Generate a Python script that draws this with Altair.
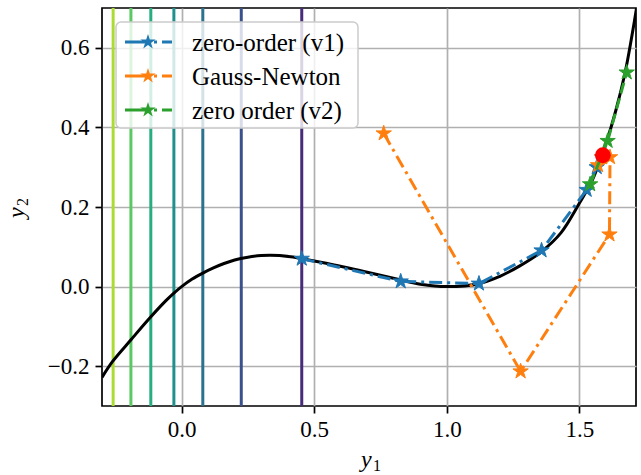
import altair as alt
import pandas as pd

# ---- data ----
curve_x = [-0.30, -0.26, -0.19, -0.12, -0.06, -0.03, 0.00, 0.04, 0.08, 0.12, 0.16, 0.20,
           0.25, 0.30, 0.333, 0.37, 0.44, 0.55, 0.70, 0.823, 0.90, 1.00, 1.125, 1.20,
           1.275, 1.355, 1.43, 1.50, 1.55, 1.60, 1.64, 1.672, 1.695, 1.715, 1.73]
curve_y = [-0.228, -0.188, -0.133, -0.079, -0.036, -0.017, 0.000, 0.019, 0.034, 0.047, 0.058, 0.067,
           0.074, 0.078, 0.079, 0.078, 0.072, 0.058, 0.036, 0.017, 0.006, 0.000, 0.008, 0.026,
           0.052, 0.087, 0.135, 0.210, 0.270, 0.360, 0.450, 0.538, 0.620, 0.700, 0.770]

contour_y1 = [-0.258, -0.191, -0.116, -0.029, 0.080, 0.225, 0.453]
contour_levels = ["c1", "c2", "c3", "c4", "c5", "c6", "c7"]
contour_colors = ["#aadc32", "#5cc863", "#27ad81", "#21908d", "#2c718e", "#3b518b", "#472c7a"]

v1_x = [0.453, 0.826, 1.121, 1.357, 1.527, 1.565, 1.585]
v1_y = [0.070, 0.013, 0.0075, 0.091, 0.243, 0.300, 0.325]

gn_x = [0.762, 1.278, 1.613, 1.615, 1.570, 1.585]
gn_y = [0.385, -0.213, 0.131, 0.325, 0.305, 0.325]

v2_x = [1.540, 1.606, 1.678]
v2_y = [0.257, 0.366, 0.538]

sol_x = [1.588]
sol_y = [0.330]

legend_labels = ["zero-order (v1)", "Gauss-Newton", "zero order (v2)"]
series_colors = ["#1f77b4", "#ff7f0e", "#2ca02c"]

x_ticks = [0.0, 0.5, 1.0, 1.5]
y_ticks = [-0.2, 0.0, 0.2, 0.4, 0.6]

FONT = "Liberation Serif"
STAR = ("M0,-1L0.2245,-0.309L0.951,-0.309L0.363,0.118L0.588,0.809L0,0.382"
        "L-0.588,0.809L-0.363,0.118L-0.951,-0.309L-0.2245,-0.309Z")

x_scale = alt.Scale(domain=[-0.3, 1.713], nice=False, zero=False)
y_scale = alt.Scale(domain=[-0.3, 0.7], nice=False, zero=False)

curve_df = pd.DataFrame({"y1": curve_x, "y2": curve_y, "i": range(len(curve_x))})
contour_df = pd.DataFrame({"y1": contour_y1, "level": contour_levels})

x_axis = alt.Axis(values=x_ticks, format=".1f", title=None, grid=True, gridColor="#b0b0b0",
                  gridWidth=1.7, domain=False, ticks=True, tickSize=7, tickWidth=1.7,
                  tickColor="black", labelFont=FONT, labelFontSize=23, labelColor="black",
                  labelPadding=5)
y_axis = alt.Axis(values=y_ticks, format=".1f", title=None, grid=True, gridColor="#b0b0b0",
                  gridWidth=1.7, domain=False, ticks=True, tickSize=7, tickWidth=1.7,
                  tickColor="black", labelFont=FONT, labelFontSize=23, labelColor="black",
                  labelPadding=6)


def X(field="y1"):
    return alt.X(f"{field}:Q", scale=x_scale, axis=x_axis)


def Y(field="y2"):
    return alt.Y(f"{field}:Q", scale=y_scale, axis=y_axis)


contours = alt.Chart(contour_df).mark_rule(strokeWidth=3).encode(
    x=X(),
    color=alt.Color("level:N", scale=alt.Scale(domain=contour_levels, range=contour_colors),
                    legend=None),
)

curve = alt.Chart(curve_df).mark_line(color="black", strokeWidth=3, interpolate="catmull-rom",
                                      clip=True).encode(
    x=X(), y=Y(), order="i:Q",
)


def series(xs, ys, color, dash):
    df = pd.DataFrame({"y1": xs, "y2": ys, "i": range(len(xs))})
    line = alt.Chart(df).mark_line(color=color, strokeWidth=3, strokeDash=dash).encode(
        x=X(), y=Y(), order="i:Q")
    pts = alt.Chart(df).mark_point(shape=STAR, filled=True, size=260, color=color,
                                   stroke=color, strokeWidth=1, opacity=1).encode(x=X(), y=Y())
    return line + pts


dashdot = [13, 5, 3, 5]
dashed = [11, 5]
s1 = series(v1_x, v1_y, series_colors[0], dashdot)
s2 = series(gn_x, gn_y, series_colors[1], dashdot)
s3 = series(v2_x, v2_y, series_colors[2], dashed)

sol = alt.Chart(pd.DataFrame({"y1": sol_x, "y2": sol_y})).mark_point(
    shape="circle", filled=True, size=250, color="#ff0000", opacity=1).encode(x=X(), y=Y())

# ---- legend (pixel positions inside the plot area) ----
leg_layers = []
box = alt.Chart(pd.DataFrame({"a": [0]})).mark_rect(
    fill="white", fillOpacity=0.8, stroke="#cccccc", strokeWidth=1.5, cornerRadius=5).encode(
    x=alt.value(14), x2=alt.value(256), y=alt.value(14), y2=alt.value(120))
leg_layers.append(box)
for k, lab in enumerate(legend_labels):
    ry = 34 + 34 * k
    d = pd.DataFrame({"label": [lab]})
    leg_layers.append(alt.Chart(d).mark_rule(color=series_colors[k], strokeWidth=3,
                                             strokeDash=[24, 5, 3, 5]).encode(
        x=alt.value(23), x2=alt.value(70), y=alt.value(ry)))
    leg_layers.append(alt.Chart(d).mark_point(shape=STAR, filled=True, size=260,
                                              color=series_colors[k], opacity=1).encode(
        x=alt.value(46), y=alt.value(ry)))
    leg_layers.append(alt.Chart(d).mark_text(align="left", baseline="middle", font=FONT,
                                             fontSize=25, color="black").encode(
        x=alt.value(90), y=alt.value(ry + 1), text="label:N"))

# ---- axis titles as text (italic y with subscript) ----
titles = []
t = pd.DataFrame({"s": ["y"]})
titles.append(alt.Chart(t).mark_text(font=FONT, fontSize=24, fontStyle="italic", align="left",
                                     baseline="alphabetic", color="black").encode(
    x=alt.value(259), y=alt.value(459), text="s:N"))
titles.append(alt.Chart(pd.DataFrame({"s": ["1"]})).mark_text(
    font=FONT, fontSize=16, align="left", baseline="alphabetic", color="black").encode(
    x=alt.value(271), y=alt.value(463), text="s:N"))
titles.append(alt.Chart(t).mark_text(font=FONT, fontSize=24, fontStyle="italic", align="left",
                                     baseline="alphabetic", angle=270, color="black").encode(
    x=alt.value(-78), y=alt.value(210), text="s:N"))
titles.append(alt.Chart(pd.DataFrame({"s": ["2"]})).mark_text(
    font=FONT, fontSize=16, align="left", baseline="alphabetic", angle=270, color="black").encode(
    x=alt.value(-74), y=alt.value(198), text="s:N"))

chart = alt.layer(contours, curve, s1, s2, s3, sol, *leg_layers, *titles).properties(
    width=534, height=398,
    autosize=alt.AutoSizeParams(type="none"),
    padding={"left": 102, "top": 8, "right": 5, "bottom": 69},
    background="white",
).configure_view(stroke="black", strokeWidth=1.7)

chart.save("out.html", embed_options={"renderer": "svg", "actions": False})
